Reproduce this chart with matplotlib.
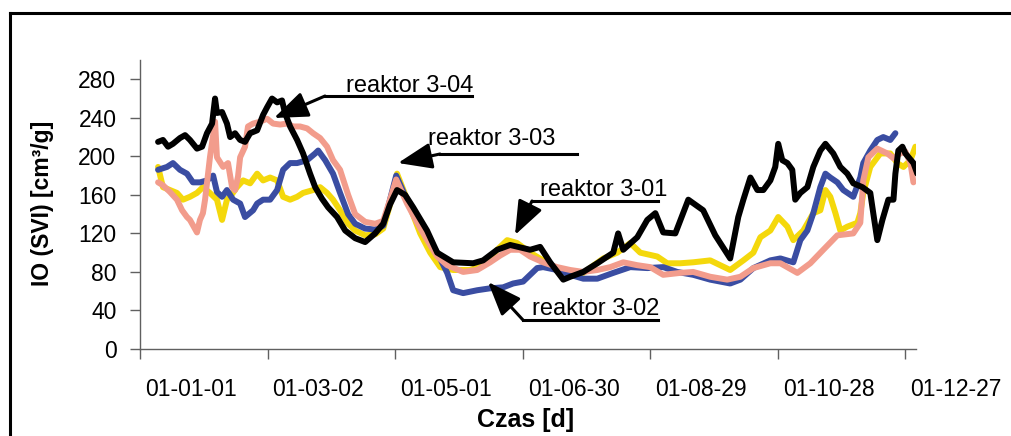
import matplotlib
matplotlib.use("Agg")
import matplotlib.pyplot as plt
from matplotlib.lines import Line2D
from matplotlib.transforms import ScaledTranslation

plt.rcParams['font.family'] = ['Liberation Sans', 'DejaVu Sans']

# ---- data (day offsets from 2001-01-01, SVI values) ----
tick_days = [0, 60, 120, 180, 240, 300, 360]
tick_labels = ["01-01-01", "01-03-02", "01-05-01", "01-06-30", "01-08-29", "01-10-28", "01-12-27"]

r304_day = [8.5, 10.8, 13.2, 15.5, 18.8, 21.2, 23.5, 26.8, 29.2, 31.5, 33.9, 35.3, 36.2, 38.6, 40.9, 42.4, 44.7,
            47.1, 49.4, 51.8, 55.1, 57.9, 59.8, 62.1, 64.5, 66.8, 68.2, 70.6, 73.9, 76.7, 80, 82.4, 85.6, 88.5,
            92.7, 96.5, 101.2, 105.9, 110.6, 114.4, 117.6, 120.9, 124.7, 128.5, 135, 139.8, 147.3, 156.7, 161.4,
            168, 174.1, 183.5, 188.2, 192.9, 199.1, 202.4, 208.5, 215.1, 222.6, 224.9, 227.3, 233.9, 238.6,
            242.4, 246.1, 251.8, 257.9, 264.9, 270.6, 277.6, 281.4, 283.8, 287.1, 290.4, 293.2, 296.5, 298.8,
            300.2, 302.1, 304.5, 306.8, 308.2, 310.6, 313.9, 316.7, 320, 322.4, 326.1, 329.4, 332.7, 335.5,
            339.8, 343.5, 344.9, 346.8, 349.2, 352, 354.4, 355.3, 356.7, 358.6, 360, 363.8, 365.6]
r304_val = [215, 217, 210, 213, 219, 222, 217, 208, 210, 224, 234, 260, 245, 246, 234, 220, 224,
            217, 215, 224, 227, 243, 251, 260, 256, 258, 245, 231, 217, 203, 182, 168, 156, 147,
            137, 123, 115, 111, 120, 130, 150, 165, 160, 147, 123, 100, 90, 89, 92,
            103, 108, 103, 106, 90, 72, 75, 80, 89, 100, 120, 103, 116, 134,
            141, 121, 120, 155, 144, 118, 94, 137, 155, 178, 165, 165, 175, 189,
            213, 196, 193, 186, 155, 162, 168, 189, 206, 213, 203, 189, 182, 172,
            168, 162, 141, 113, 134, 155, 155, 182, 206, 210, 203, 193, 182]

r303_day = [8.5, 10.8, 14.1, 17.4, 19.8, 22.1, 23.5, 26.8, 28.2, 29.6, 30.6, 32.9, 35.3, 36.2, 39.1, 41.4, 43.3,
            44.7, 46.1, 47.1, 49.4, 50.8, 53.2, 56.5, 59.8, 62.6, 65.9, 69.2, 72, 75.3, 78.6, 81.4, 84.7, 88,
            90.8, 94.1, 97.9, 101.2, 105.9, 110.6, 114.4, 117.6, 120.5, 125.6, 130.4, 135.1, 139.8, 144.5, 152,
            158.6, 164.7, 169.4, 174.1, 178.8, 183.5, 189.6, 196.2, 202.4, 208.5, 215.1, 221.2, 227.3, 233.9,
            240, 246.1, 254.1, 260.2, 268.2, 276.2, 282.4, 288.5, 296.5, 301.2, 309.2, 315.3, 321.4, 328, 335.5,
            338.8, 340.2, 342.6, 346.8, 351.5, 354.4, 357.6, 360, 362.4, 363.8]
r303_val = [173, 170, 163, 155, 144, 137, 134, 121, 134, 141, 155, 199, 236, 199, 189, 193, 168,
            165, 179, 199, 210, 231, 234, 236, 239, 234, 233, 234, 231, 231, 229, 224, 219, 210,
            196, 186, 160, 140, 132, 130, 133, 155, 176, 151, 131, 113, 96, 87, 80,
            82, 90, 97, 103, 103, 96, 90, 85, 82, 80, 82, 85, 90, 87,
            85, 77, 79, 80, 75, 72, 75, 84, 89, 89, 79, 89, 103, 118, 120,
            131, 175, 199, 208, 203, 198, 203, 205, 193, 173]

r302_day = [8.5, 12.7, 15.5, 18.8, 22.1, 24.9, 28.2, 31.5, 34.4, 36.2, 38.6, 40.9, 43.8, 47.1, 49.4, 53.2, 55.1,
            57.9, 61.2, 64.5, 67.3, 70.6, 73.9, 78.6, 82.4, 83.8, 87.1, 90.8, 94.1, 97.9, 101.2, 105.9, 110.6,
            114.4, 117.6, 120.5, 127.1, 133.2, 139.8, 144.5, 147.3, 152, 158.6, 164.7, 170.8, 175.5, 180.2,
            183.5, 186.8, 189.6, 196.2, 202.4, 208.5, 215.1, 222.6, 230.6, 238.6, 246.1, 252.7, 260.2, 268.2,
            277.6, 282.4, 288.5, 296.5, 301.2, 307.3, 310.6, 313.9, 316.7, 320, 322.4, 324.7, 328, 330.8,
            335.5, 338.8, 340.2, 343.5, 346.8, 349.6, 352.9, 355.3]
r302_val = [186, 189, 193, 186, 182, 173, 173, 175, 180, 163, 158, 165, 155, 151, 137, 144, 151,
            155, 155, 165, 186, 193, 193, 196, 203, 206, 196, 182, 162, 140, 130, 125, 124,
            128, 155, 180, 147, 123, 100, 79, 61, 58, 61, 63, 64, 68, 70,
            77, 84, 85, 82, 77, 73, 73, 79, 85, 84, 85, 80, 77, 72,
            68, 72, 84, 92, 94, 90, 113, 123, 141, 168, 182, 178, 173, 165,
            158, 178, 193, 206, 217, 220, 217, 224]

r301_day = [8.5, 10.8, 14.1, 17.4, 20.2, 23.5, 26.8, 29.6, 32.9, 36.2, 38.6, 40.9, 42.4, 45.6, 48.5, 51.8, 55.1,
            57.9, 61.2, 64.5, 67.3, 70.6, 73.9, 76.7, 81.4, 84.7, 88, 90.8, 94.1, 97.9, 101.2, 105.9, 110.6,
            114.4, 117.6, 120.9, 127.1, 131.8, 136.5, 141.2, 147.3, 155.3, 161.4, 168, 172.7, 177.4, 183.5,
            189.6, 199.1, 208.5, 217.9, 224.5, 230.6, 235.3, 243.3, 248, 254.1, 260.2, 268.2, 272.9, 277.6,
            283.8, 288.5, 291.8, 296.5, 300.2, 304.5, 307.3, 312, 316.7, 320, 322.4, 324.7, 327.1, 329.4,
            332.7, 337.4, 338.8, 340.2, 343.5, 348.2, 352.9, 356.2, 359.1, 362.4, 364.7]
r301_val = [189, 168, 165, 162, 155, 158, 162, 168, 162, 155, 134, 155, 158, 168, 175, 172, 182,
            175, 178, 175, 158, 155, 158, 162, 165, 168, 162, 155, 144, 130, 123, 118, 119,
            125, 150, 182, 147, 120, 100, 85, 82, 82, 87, 103, 113, 110, 100,
            92, 79, 79, 94, 100, 110, 100, 96, 89, 89, 90, 92, 87, 82,
            92, 100, 116, 123, 137, 127, 113, 123, 141, 144, 165, 158, 141, 123,
            127, 131, 141, 162, 189, 203, 203, 193, 189, 196, 210]

series = [
    ("reaktor 3-01", r301_day, r301_val, "#F4D80C", 2),
    ("reaktor 3-02", r302_day, r302_val, "#3A4DA2", 3),
    ("reaktor 3-03", r303_day, r303_val, "#F29C8C", 4),
    ("reaktor 3-04", r304_day, r304_val, "#000000", 5),
]

W, H = 1011, 436
fig = plt.figure(figsize=(W / 100, H / 100), dpi=100)
ax = fig.add_axes([140 / W, (H - 349) / H, 776 / W, 289 / H])

for name, d, v, c, z in series:
    ax.plot(d, v, color=c, lw=4.3, zorder=z, solid_joinstyle='round', solid_capstyle='round')

ax.set_xlim(0, 365)
ax.set_ylim(0, 300)
ax.set_yticks(range(0, 281, 40))
ax.set_xticks(tick_days)
ax.set_xticklabels(tick_labels)

for s in ['top', 'right']:
    ax.spines[s].set_visible(False)
for s in ['left', 'bottom']:
    ax.spines[s].set_color('#606060')
    ax.spines[s].set_linewidth(1.0)
ax.tick_params(axis='y', direction='out', length=7, width=1, color='#606060', labelsize=16.5, pad=10)
ax.tick_params(axis='x', direction='out', length=7, width=1, color='#606060', labelsize=16.5, pad=14)
off = ScaledTranslation(5 / 100, 0, fig.dpi_scale_trans)
for lab in ax.get_xticklabels():
    lab.set_horizontalalignment('left')
    lab.set_transform(lab.get_transform() + off)

# axis titles
fig.text(526 / W, (H - 427) / H, "Czas [d]", fontsize=18, fontweight='bold', ha='center', va='baseline')
fig.text(49.5 / W, (H - 203) / H, "IO (SVI) [cm\u00b3/g]", fontsize=16.5, fontweight='bold',
         rotation=90, rotation_mode='anchor', ha='center', va='baseline')

# annotations (figure pixel positions, origin top-left converted)
def P(x, y):
    return (x, H - y)

annots = [
    ("reaktor 3-04", (346, 92), (325, 472, 96), (274, 118)),
    ("reaktor 3-03", (428, 145), (440, 577, 154), (398, 163)),
    ("reaktor 3-01", (540, 196), (532, 658, 201), (515, 235)),
    ("reaktor 3-02", (532, 315), (523, 658, 320), (488, 282)),
]
for txt, tpos, (x0, x1, yl), tip in annots:
    fig.text(tpos[0] / W, (H - tpos[1]) / H, txt, fontsize=17, ha='left', va='baseline')
    fig.add_artist(Line2D([x0 / W, x1 / W], [(H - yl) / H, (H - yl) / H], color='black', lw=2.2,
                          transform=fig.transFigure))
    ax.annotate("", xy=P(*tip), xycoords='figure pixels', xytext=P(x0, yl), textcoords='figure pixels',
                arrowprops=dict(arrowstyle='-|>,head_length=1.3,head_width=0.5', color='black', lw=2.2,
                                mutation_scale=16, shrinkA=0, shrinkB=0), zorder=10)

# outer frame
fig.add_artist(Line2D([10 / W, 1.0], [(H - 13) / H, (H - 13) / H], color='black', lw=2.2, transform=fig.transFigure))
fig.add_artist(Line2D([10 / W, 10 / W], [0, (H - 13) / H], color='black', lw=2.2, transform=fig.transFigure))

fig.savefig("out.png", dpi=100)
